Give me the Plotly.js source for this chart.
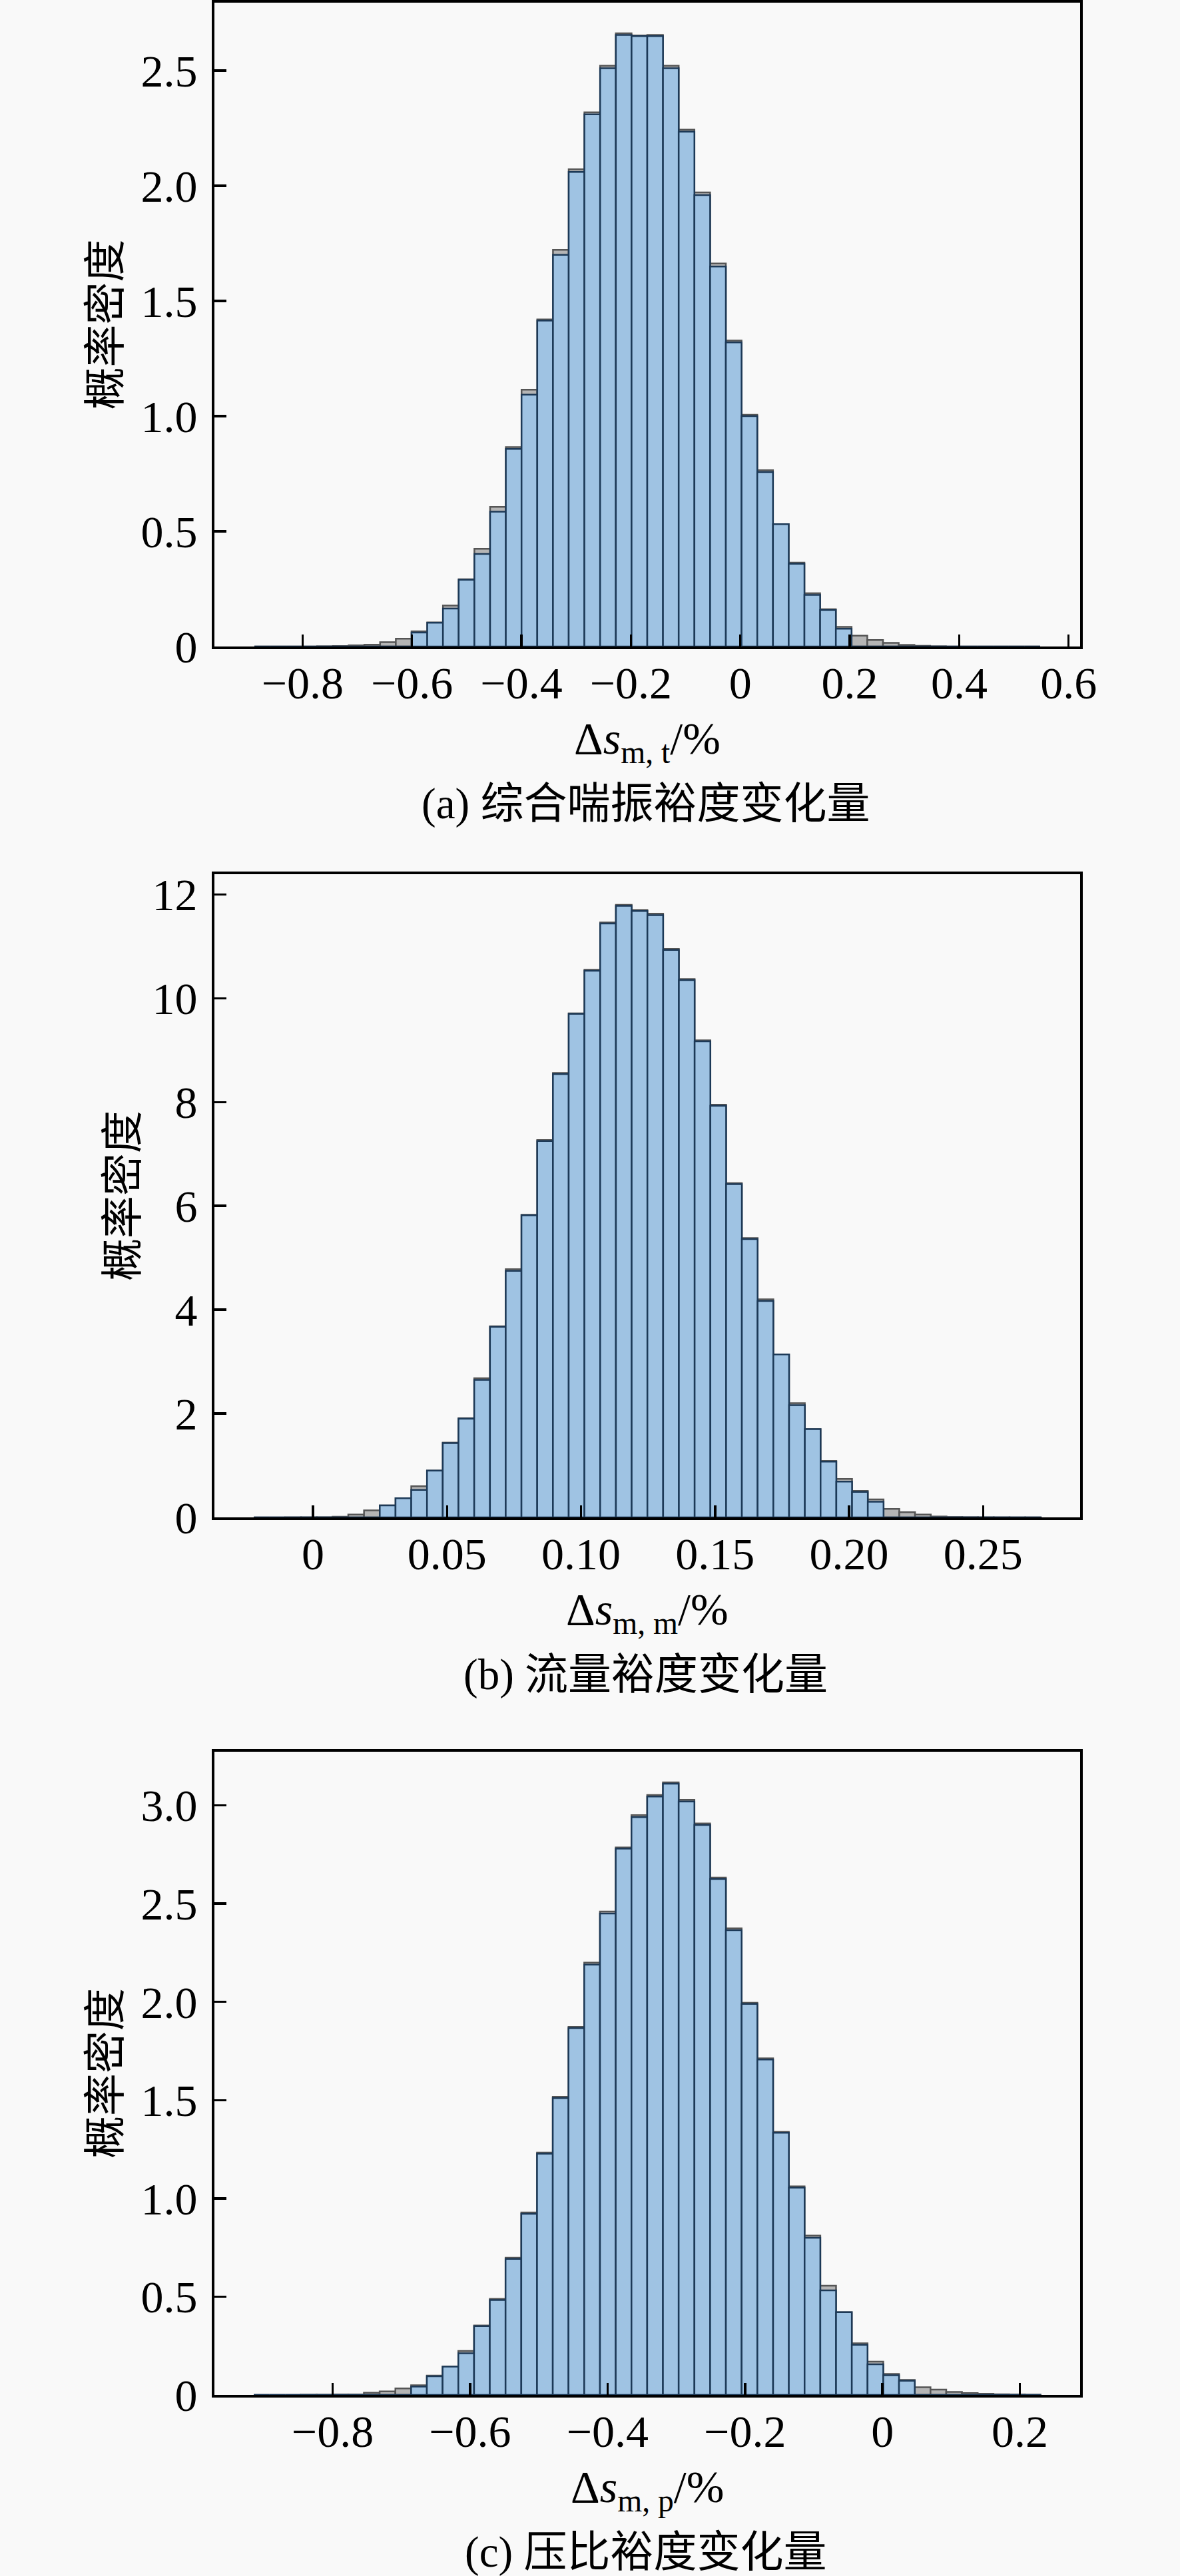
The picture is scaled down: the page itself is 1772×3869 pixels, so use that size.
<!DOCTYPE html>
<html>
<head>
<meta charset="utf-8">
<script src="https://cdn.plot.ly/plotly-3.0.1.min.js"></script>
<style>
  html, body { margin: 0; padding: 0; background: #f9f9f9; }
  #chart { width: 1772px; height: 3869px; }
</style>
</head>
<body>
<div id="chart"></div>
<script>
// ============================================================
// Surge-margin change histograms — three stacked panels
// ============================================================

// ── Bin layout (left edge of first bin, bin width) ───────────
var startA = -0.888,  sizeA = 0.02872;
var startB = -0.0221, sizeB = 0.005874;
var startC = -0.9148, sizeC = 0.0229;

// ── (a) 综合喘振裕度变化量 ─────────────────────────────────────
var greyA = [0, 0, 0, 0, 0.001, 0.002, 0.005, 0.008, 0.019, 0.034,
             0.066, 0.105, 0.178, 0.292, 0.424, 0.606, 0.866, 1.115, 1.420, 1.722,
             2.072, 2.319, 2.521, 2.662, 2.653, 2.655, 2.521, 2.244, 1.971, 1.663,
             1.328, 1.006, 0.765, 0.531, 0.364, 0.231, 0.162, 0.085, 0.047, 0.028,
             0.016, 0.007, 0.003, 0.001, 0, 0, 0, 0, 0, 0];
var blueA = [0, 0, 0, 0, 0, 0, 0, 0, 0, 0,
             0.061, 0.103, 0.165, 0.290, 0.402, 0.585, 0.858, 1.093, 1.415, 1.700,
             2.060, 2.310, 2.510, 2.655, 2.650, 2.650, 2.510, 2.235, 1.960, 1.650,
             1.320, 1.000, 0.757, 0.531, 0.359, 0.224, 0.158, 0.077, 0, 0,
             0, 0, 0, 0, 0, 0, 0, 0, 0, 0];
var xTickA = [-0.8, -0.6, -0.4, -0.2, 0, 0.2, 0.4, 0.6];
var xTextA = ['\u22120.8', '\u22120.6', '\u22120.4', '\u22120.2', '0', '0.2', '0.4', '0.6'];
var yTickA = [0, 0.5, 1.0, 1.5, 2.0, 2.5];
var yTextA = ['0', '0.5', '1.0', '1.5', '2.0', '2.5'];

// ── (b) 流量裕度变化量 ─────────────────────────────────────────
var greyB = [0, 0, 0.002, 0.003, 0.004, 0.013, 0.056, 0.134, 0.23, 0.37,
             0.60, 0.90, 1.44, 1.91, 2.68, 3.68, 4.78, 5.83, 7.27, 8.56,
             9.71, 10.55, 11.46, 11.80, 11.70, 11.63, 10.95, 10.37, 9.19, 7.95,
             6.44, 5.38, 4.20, 3.14, 2.20, 1.70, 1.087, 0.74, 0.51, 0.346,
             0.165, 0.10, 0.056, 0.017, 0.008, 0.005, 0.003, 0.002, 0.001, 0.001];
var blueB = [0, 0, 0, 0, 0, 0, 0, 0, 0.23, 0.37,
             0.53, 0.90, 1.43, 1.90, 2.65, 3.67, 4.75, 5.82, 7.25, 8.54,
             9.70, 10.53, 11.44, 11.78, 11.68, 11.60, 10.93, 10.35, 9.17, 7.93,
             6.42, 5.36, 4.17, 3.14, 2.16, 1.70, 1.074, 0.69, 0.49, 0.30,
             0, 0, 0, 0, 0, 0, 0, 0, 0, 0];
var xTickB = [0, 0.05, 0.10, 0.15, 0.20, 0.25];
var xTextB = ['0', '0.05', '0.10', '0.15', '0.20', '0.25'];
var yTickB = [0, 2, 4, 6, 8, 10, 12];
var yTextB = ['0', '2', '4', '6', '8', '10', '12'];

// ── (c) 压比裕度变化量 ─────────────────────────────────────────
var greyC = [0, 0, 0, 0.001, 0.001, 0.002, 0.002, 0.011, 0.018, 0.033,
             0.049, 0.098, 0.144, 0.224, 0.353, 0.489, 0.698, 0.928, 1.233, 1.517,
             1.873, 2.200, 2.460, 2.786, 2.950, 3.053, 3.117, 3.028, 2.908, 2.633,
             2.374, 1.996, 1.713, 1.338, 1.061, 0.811, 0.556, 0.421, 0.263, 0.169,
             0.107, 0.076, 0.039, 0.027, 0.015, 0.009, 0.006, 0.003, 0.002, 0.001];
var blueC = [0, 0, 0, 0, 0, 0, 0, 0, 0, 0,
             0.042, 0.095, 0.144, 0.212, 0.350, 0.483, 0.692, 0.922, 1.227, 1.510,
             1.867, 2.190, 2.450, 2.780, 2.940, 3.045, 3.110, 3.020, 2.900, 2.625,
             2.365, 1.990, 1.707, 1.334, 1.055, 0.800, 0.532, 0.421, 0.255, 0.156,
             0.100, 0.072, 0, 0, 0, 0, 0, 0, 0, 0];
var xTickC = [-0.8, -0.6, -0.4, -0.2, 0, 0.2];
var xTextC = ['\u22120.8', '\u22120.6', '\u22120.4', '\u22120.2', '0', '0.2'];
var yTickC = [0, 0.5, 1.0, 1.5, 2.0, 2.5, 3.0];
var yTextC = ['0', '0.5', '1.0', '1.5', '2.0', '2.5', '3.0'];

// ── Style ────────────────────────────────────────────────────
var W = 1772, H = 3869;
var SERIF = 'Liberation Serif, Times New Roman, serif';
var CJK   = 'Liberation Serif, Noto Sans CJK SC, serif';
var GREY_FILL = '#b5b5b5', GREY_EDGE = '#555555';
var BLUE_FILL = '#9fc3e3', BLUE_EDGE = '#1c3957';

function px(x) { return x / W; }
function py(y) { return 1 - y / H; }

function histTrace(values, start, size, xa, ya, fill, edge) {
    return {
        type: 'bar', y: values, x0: start + size / 2, dx: size, width: size,
        xaxis: xa, yaxis: ya, hoverinfo: 'skip', showlegend: false,
        marker: { color: fill, line: { color: edge, width: 2.5 } }
    };
}

function axis(domain, range, vals, text, anchor, standoff) {
    return {
        domain: domain, range: range, anchor: anchor, fixedrange: true,
        tickmode: 'array', tickvals: vals, ticktext: text,
        ticks: 'inside', ticklen: 18, tickwidth: 3.5, tickcolor: '#000',
        ticklabelstandoff: standoff,
        showline: true, mirror: true, linecolor: '#000', linewidth: 4,
        showgrid: false, zeroline: false,
        tickfont: { family: SERIF, size: 68, color: '#000' }
    };
}

function note(x, y, text, font, size, angle) {
    return {
        xref: 'paper', yref: 'paper', x: px(x), y: py(y), text: text,
        showarrow: false, xanchor: 'center', yanchor: 'middle',
        textangle: angle || 0, font: { family: font, size: size, color: '#000' }
    };
}

// ── Panels (pixel boxes: left 322, right 1622) ───────────────
var xDom = [px(322), px(1622)];
var panels = [
    { top: 4,    bottom: 971,  xr: [-0.961, 0.621],   yr: [0, 2.795],
      ylx: 158, label: '(a) 综合喘振裕度变化量', sub: 'm, t' },
    { top: 1313, bottom: 2279, xr: [-0.0368, 0.2862], yr: [0, 12.39],
      ylx: 184, label: '(b) 流量裕度变化量', sub: 'm, m' },
    { top: 2631, bottom: 3597, xr: [-0.972, 0.2876],  yr: [0, 3.273],
      ylx: 158, label: '(c) 压比裕度变化量', sub: 'm, p' }
];
var ticks = [
    [xTickA, xTextA, yTickA, yTextA],
    [xTickB, xTextB, yTickB, yTextB],
    [xTickC, xTextC, yTickC, yTextC]
];

var data = [
    histTrace(greyA, startA, sizeA, 'x',  'y',  GREY_FILL, GREY_EDGE),
    histTrace(blueA, startA, sizeA, 'x',  'y',  BLUE_FILL, BLUE_EDGE),
    histTrace(greyB, startB, sizeB, 'x2', 'y2', GREY_FILL, GREY_EDGE),
    histTrace(blueB, startB, sizeB, 'x2', 'y2', BLUE_FILL, BLUE_EDGE),
    histTrace(greyC, startC, sizeC, 'x3', 'y3', GREY_FILL, GREY_EDGE),
    histTrace(blueC, startC, sizeC, 'x3', 'y3', BLUE_FILL, BLUE_EDGE)
];

var layout = {
    width: W, height: H, margin: { l: 0, r: 0, t: 0, b: 0 },
    paper_bgcolor: '#f9f9f9', plot_bgcolor: '#f9f9f9',
    barmode: 'overlay', bargap: 0, showlegend: false,
    annotations: []
};

panels.forEach(function (p, i) {
    var n = i === 0 ? '' : String(i + 1);
    var t = ticks[i];
    var yDom = [py(p.bottom), py(p.top)];
    layout['xaxis' + n] = axis(xDom, p.xr, t[0], t[1], 'y' + n, -8);
    layout['yaxis' + n] = axis(yDom, p.yr, t[2], t[3], 'x' + n, 8);
    var mid = (p.top + p.bottom) / 2;
    layout.annotations.push(
        note(p.ylx, mid, '概率密度', CJK, 64, -90),
        note(972, p.bottom + 142, 'Δ<i>s</i><sub>' + p.sub + '</sub>/%', SERIF, 68),
        note(970, p.bottom + 236, p.label, CJK, 65)
    );
});

Plotly.newPlot('chart', data, layout, { staticPlot: true, displayModeBar: false });
</script>
</body>
</html>
